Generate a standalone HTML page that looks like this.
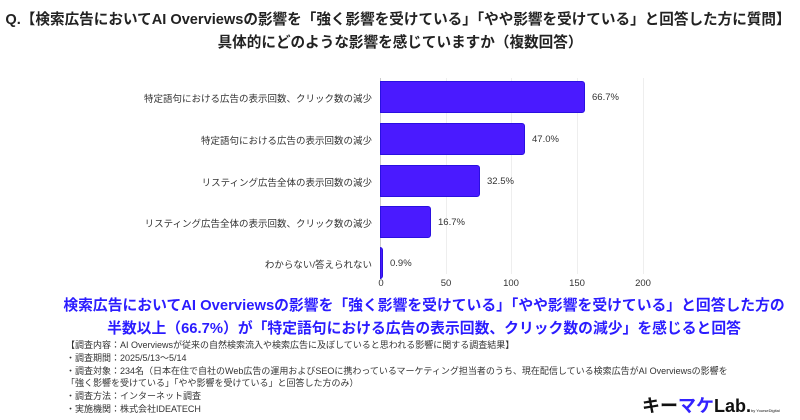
<!DOCTYPE html><html><head><meta charset="utf-8"><style>
body{margin:0;width:800px;height:420px;background:#fff;font-family:"Liberation Sans","Noto Sans CJK JP",sans-serif;position:relative;overflow:hidden;color:#222}
.a{position:absolute;white-space:nowrap}
.t{font-weight:bold;font-size:14.6px;left:0;width:800px;text-align:center;color:#222}
.lab{font-size:9.5px;right:428px;text-align:right;color:#333}
.bar{position:absolute;left:380px;height:32px;background:#4a1aff;border:1px solid #2a10e0;border-radius:0 3px 3px 0;box-sizing:border-box}
.v{font-size:9.5px;color:#333}
.g{position:absolute;top:78px;height:196px;width:1px;background:#eee}
.tk{font-size:9.5px;top:278px;color:#333;transform:translateX(-50%)}
.b{font-weight:bold;font-size:14.8px;color:#2b1cff;left:24px;width:800px;text-align:center}
.n{font-size:9px;left:66px;color:#333}
</style></head><body>
<div class="a t" style="top:8px;left:-2px">Q.【検索広告においてAI Overviewsの影響を「強く影響を受けている」「やや影響を受けている」と回答した方に質問】</div>
<div class="a t" style="top:31px">具体的にどのような影響を感じていますか（複数回答）</div>
<div class="g" style="left:446px"></div><div class="g" style="left:511px"></div><div class="g" style="left:577px"></div><div class="g" style="left:643px"></div>
<div class="g" style="left:380px;background:#ccc"></div>
<div class="bar" style="top:81px;width:205px"></div>
<div class="bar" style="top:123px;width:145px"></div>
<div class="bar" style="top:165px;width:100px"></div>
<div class="bar" style="top:206px;width:51px"></div>
<div class="bar" style="top:247px;width:3px"></div>
<div class="a lab" style="top:91px">特定語句における広告の表示回数、クリック数の減少</div>
<div class="a lab" style="top:133px">特定語句における広告の表示回数の減少</div>
<div class="a lab" style="top:175px">リスティング広告全体の表示回数の減少</div>
<div class="a lab" style="top:216px">リスティング広告全体の表示回数、クリック数の減少</div>
<div class="a lab" style="top:257px">わからない/答えられない</div>
<div class="a v" style="top:92px;left:592px">66.7%</div>
<div class="a v" style="top:134px;left:532px">47.0%</div>
<div class="a v" style="top:176px;left:487px">32.5%</div>
<div class="a v" style="top:217px;left:438px">16.7%</div>
<div class="a v" style="top:258px;left:390px">0.9%</div>
<div class="a tk" style="left:381px">0</div><div class="a tk" style="left:446px">50</div><div class="a tk" style="left:511px">100</div><div class="a tk" style="left:577px">150</div><div class="a tk" style="left:643px">200</div>
<div class="a b" style="top:294px">検索広告においてAI Overviewsの影響を「強く影響を受けている」「やや影響を受けている」と回答した方の</div>
<div class="a b" style="top:317px">半数以上（66.7%）が「特定語句における広告の表示回数、クリック数の減少」を感じると回答</div>
<div class="a n" style="top:338px">【調査内容：AI Overviewsが従来の自然検索流入や検索広告に及ぼしていると思われる影響に関する調査結果】</div>
<div class="a n" style="top:351px">・調査期間：2025/5/13〜5/14</div>
<div class="a n" style="top:364px">・調査対象：234名（日本在住で自社のWeb広告の運用およびSEOに携わっているマーケティング担当者のうち、現在配信している検索広告がAI Overviewsの影響を</div>
<div class="a n" style="top:376px">「強く影響を受けている」「やや影響を受けている」と回答した方のみ）</div>
<div class="a n" style="top:389px">・調査方法：インターネット調査</div>
<div class="a n" style="top:402px">・実施機関：株式会社IDEATECH</div>
<div class="a" style="top:392px;left:642px;font-size:18px;font-weight:bold;color:#111">キー<span style="color:#3322ff">マケ</span>Lab.<span style="font-size:4px;font-weight:normal">by YourseDigital</span></div>
</body></html>
